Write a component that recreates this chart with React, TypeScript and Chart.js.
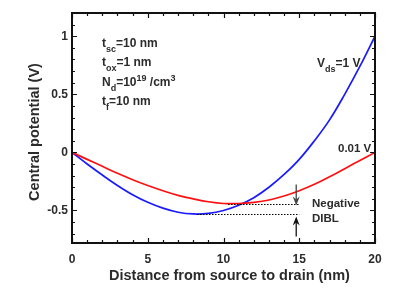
import React, { useEffect, useRef } from "react";
import { Chart, registerables } from "chart.js";

Chart.register(...registerables);

// ---- data ----
const distanceNm = [0, 1, 2, 3, 4, 5, 6, 7, 8, 9, 10, 11, 12, 13, 14, 15, 16, 17, 18, 19, 20];
const potentialLowVds = [0, -0.06, -0.12, -0.18, -0.235, -0.285, -0.33, -0.37, -0.4, -0.425, -0.44, -0.44, -0.43, -0.41, -0.375, -0.33, -0.275, -0.21, -0.14, -0.07, 0];
const potentialHighVds = [0, -0.1, -0.195, -0.285, -0.365, -0.43, -0.48, -0.515, -0.53, -0.525, -0.5, -0.455, -0.39, -0.3, -0.19, -0.06, 0.1, 0.28, 0.5, 0.74, 1.0];
const xTickValues = [0, 5, 10, 15, 20];
const yTickValues = [-0.5, 0, 0.5, 1];
const yTickLabels = ["-0.5", "0", "0.5", "1"];
const xMinorStep = 1;
const yMinorStep = 0.1;
const lowMinimum = { x: 10.3, y: -0.44 };
const highMinimum = { x: 8.25, y: -0.53 };
const diblX = 14.8;

const FONT = '"Liberation Sans", Arial, sans-serif';
const TEXT = "#2b2b2b";

type Part = [string, "n" | "sub" | "sup"];

function drawRich(ctx: CanvasRenderingContext2D, x: number, y: number, parts: Part[], size: number) {
  let cx = x;
  for (const [t, kind] of parts) {
    const s = kind === "n" ? size : Math.round(size * 0.78);
    ctx.font = `bold ${s}px ${FONT}`;
    const dy = kind === "sub" ? size * 0.45 : kind === "sup" ? -size * 0.42 : 0;
    ctx.fillText(t, cx, y + dy);
    cx += ctx.measureText(t).width;
  }
}

function arrow(ctx: CanvasRenderingContext2D, x: number, y0: number, y1: number, color: string) {
  const dir = y1 > y0 ? 1 : -1;
  ctx.strokeStyle = color;
  ctx.fillStyle = color;
  ctx.lineWidth = 1.3;
  ctx.beginPath();
  ctx.moveTo(x, y0);
  ctx.lineTo(x, y1 - dir * 3);
  ctx.stroke();
  ctx.beginPath();
  ctx.moveTo(x, y1);
  ctx.lineTo(x - 3.5, y1 - dir * 9);
  ctx.lineTo(x, y1 - dir * 6);
  ctx.lineTo(x + 3.5, y1 - dir * 9);
  ctx.closePath();
  ctx.fill();
}

const decorPlugin = {
  id: "decor",
  afterDatasetsDraw(chart: any) {
    const { ctx, chartArea } = chart;
    const xs = chart.scales.x;
    const ys = chart.scales.y;
    const { left, right, top, bottom } = chartArea;
    ctx.save();

    // dotted minimum levels
    ctx.strokeStyle = "#000";
    ctx.lineWidth = 1;
    ctx.setLineDash([1.5, 1.5]);
    const xe = xs.getPixelForValue(diblX) + 3;
    const yl = Math.round(ys.getPixelForValue(lowMinimum.y)) + 0.5;
    const yh = Math.round(ys.getPixelForValue(highMinimum.y)) + 0.5;
    ctx.beginPath();
    ctx.moveTo(xs.getPixelForValue(lowMinimum.x), yl);
    ctx.lineTo(xe, yl);
    ctx.moveTo(xs.getPixelForValue(highMinimum.x), yh);
    ctx.lineTo(xe, yh);
    ctx.stroke();
    ctx.setLineDash([]);

    // arrows
    const ax = xs.getPixelForValue(diblX);
    arrow(ctx, ax, yl - 20, yl + 1, "#444");
    arrow(ctx, ax, yh + 22, yh + 2, "#111");

    // frame
    ctx.strokeStyle = "#111";
    ctx.lineWidth = 2;
    ctx.strokeRect(left, top, right - left, bottom - top);

    // inward ticks on all four sides
    ctx.lineWidth = 1.2;
    ctx.beginPath();
    for (let v = xs.min; v <= xs.max + 1e-9; v += xMinorStep) {
      const major = xTickValues.some((t) => Math.abs(t - v) < 1e-6);
      const len = major ? 5 : 3;
      const px = Math.round(xs.getPixelForValue(v)) + 0.5;
      ctx.moveTo(px, bottom);
      ctx.lineTo(px, bottom - len);
      ctx.moveTo(px, top);
      ctx.lineTo(px, top + len);
    }
    const start = Math.ceil(ys.min / yMinorStep) * yMinorStep;
    for (let v = start; v <= ys.max + 1e-9; v += yMinorStep) {
      const major = yTickValues.some((t) => Math.abs(t - v) < 1e-6);
      const len = major ? 5 : 3;
      const py = Math.round(ys.getPixelForValue(v)) + 0.5;
      ctx.moveTo(left, py);
      ctx.lineTo(left + len, py);
      ctx.moveTo(right, py);
      ctx.lineTo(right - len, py);
    }
    ctx.stroke();

    // annotations
    ctx.fillStyle = TEXT;
    ctx.textAlign = "left";
    ctx.textBaseline = "alphabetic";
    drawRich(ctx, 102, 47, [["t", "n"], ["sc", "sub"], ["=10 nm", "n"]], 12);
    drawRich(ctx, 102, 66, [["t", "n"], ["ox", "sub"], ["=1 nm", "n"]], 12);
    drawRich(ctx, 102, 86, [["N", "n"], ["d", "sub"], ["=10", "n"], ["19", "sup"], [" /cm", "n"], ["3", "sup"]], 12);
    drawRich(ctx, 102, 105, [["t", "n"], ["f", "sub"], ["=10 nm", "n"]], 12);
    drawRich(ctx, 317, 67, [["V", "n"], ["ds", "sub"], ["=1 V", "n"]], 12);
    drawRich(ctx, 338, 152, [["0.01 V", "n"]], 11.5);
    drawRich(ctx, 312, 207, [["Negative", "n"]], 11.5);
    drawRich(ctx, 312, 222, [["DIBL", "n"]], 11.5);

    // axis titles
    ctx.font = `bold 14.5px ${FONT}`;
    ctx.textAlign = "center";
    ctx.textBaseline = "middle";
    ctx.fillText("Distance from source to drain (nm)", (left + right) / 2 + 6, 276);
    ctx.save();
    ctx.translate(35, (top + bottom) / 2 + 4);
    ctx.rotate(-Math.PI / 2);
    ctx.fillText("Central potential (V)", 0, 0);
    ctx.restore();

    ctx.restore();
  },
};

export default function App() {
  const ref = useRef<HTMLCanvasElement | null>(null);
  useEffect(() => {
    if (!ref.current) return;
    const chart = new Chart(ref.current, {
      type: "line",
      data: {
        datasets: [
          {
            label: "Vds=0.01 V",
            data: distanceNm.map((x, i) => ({ x, y: potentialLowVds[i] })),
            borderColor: "#ff1010",
            borderWidth: 1.7,
            pointRadius: 0,
            tension: 0.4,
          },
          {
            label: "Vds=1 V",
            data: distanceNm.map((x, i) => ({ x, y: potentialHighVds[i] })),
            borderColor: "#1a1aff",
            borderWidth: 1.7,
            pointRadius: 0,
            tension: 0.4,
          },
        ],
      },
      options: {
        animation: false,
        responsive: false,
        devicePixelRatio: 1,
        layout: { padding: { left: 0, top: 13, right: 36, bottom: 0 } },
        plugins: { legend: { display: false }, tooltip: { enabled: false } },
        scales: {
          x: {
            type: "linear",
            min: 0,
            max: 20,
            grid: { display: false, drawTicks: false },
            border: { display: false },
            afterBuildTicks: (s: any) => {
              s.ticks = xTickValues.map((v) => ({ value: v }));
            },
            afterFit: (s: any) => {
              s.height = 47;
            },
            ticks: {
              padding: 9,
              color: TEXT,
              font: { family: FONT, size: 12, weight: "bold" },
              maxRotation: 0,
              callback: (v: any) => String(v),
            },
          },
          y: {
            type: "linear",
            min: -0.78,
            max: 1.2,
            grid: { display: false, drawTicks: false },
            border: { display: false },
            afterBuildTicks: (s: any) => {
              s.ticks = yTickValues.map((v) => ({ value: v }));
            },
            afterFit: (s: any) => {
              s.width = 72;
            },
            ticks: {
              padding: 4,
              color: TEXT,
              font: { family: FONT, size: 12, weight: "bold" },
              callback: (v: any) => {
                const i = yTickValues.findIndex((t) => Math.abs(t - v) < 1e-9);
                return i >= 0 ? yTickLabels[i] : "";
              },
            },
          },
        },
      },
      plugins: [
        {
          id: "bg",
          beforeDraw(c: any) {
            c.ctx.save();
            c.ctx.fillStyle = "#fff";
            c.ctx.fillRect(0, 0, c.width, c.height);
            c.ctx.restore();
          },
        },
        decorPlugin,
      ],
    } as any);
    return () => chart.destroy();
  }, []);
  return (
    <div style={{ position: "fixed", left: 0, top: 0, width: 411, height: 290, background: "#fff" }}>
      <canvas ref={ref} width={411} height={290} style={{ display: "block", width: 411, height: 290 }} />
    </div>
  );
}
